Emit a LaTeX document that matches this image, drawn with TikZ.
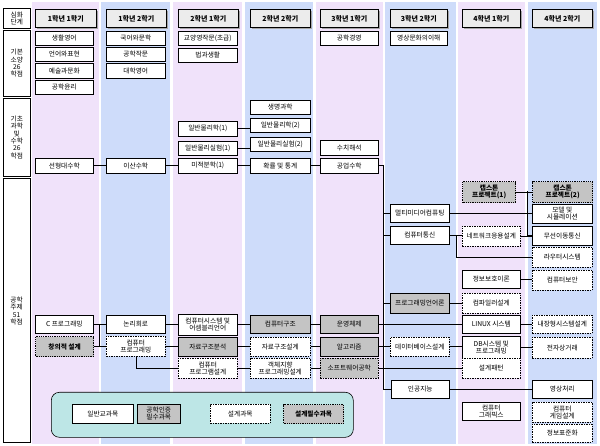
\documentclass[tikz,border=0pt]{standalone}
\usepackage{fontspec}
\setmainfont{Noto Sans CJK KR}
\usetikzlibrary{shadows}
\definecolor{pk}{HTML}{F0E2FA}
\definecolor{bl}{HTML}{CEDCFA}
\definecolor{gy}{HTML}{C4C4C4}
\definecolor{tl}{HTML}{BDE6E6}
\newcommand\B[7]{\node[#2,anchor=north west,minimum width={(#5-#3)*1pt},minimum height={(#6-#4)*1pt}] (#1) at (#3,#4) {#7};}
\begin{document}
\begin{tikzpicture}[x=1pt,y=-1pt,font=\fontsize{6.7}{7.3}\selectfont,
 base/.style={draw=black,inner sep=0pt,align=center,line width=0.6pt},
 bx/.style={base,fill=white},
 gb/.style={base,fill=gy},
 ds/.style={base,fill=white,dashed,dash pattern=on 1.5pt off 1pt},
 dg/.style={base,fill=gy,line width=1.3pt,dash pattern=on 1pt off 0.8pt,font=\fontsize{6.7}{7.3}\selectfont\bfseries},
 hd/.style={base,fill=gray!15,line width=0.8pt,font=\fontsize{7}{8}\selectfont\bfseries,drop shadow={shadow xshift=1.2pt,shadow yshift=-1.2pt,fill=gray!70,opacity=1}},
 lb/.style={base,fill=white},
 ln/.style={line width=0.6pt}]
\useasboundingbox (0,0) rectangle (600,446);
\fill[white] (0,0) rectangle (600,446);
\foreach \a/\b in {32/99,173/242,316/383,458/525} \fill[pk] (\a,2) rectangle (\b,444);
\foreach \a/\b in {101/170,245/313,385/456,528/597} \fill[bl] (\a,2) rectangle (\b,444);
% row labels
\B{r0}{lb}{3}{8}{30}{28}{심화\\단계}
\B{r1}{lb}{3}{30}{30}{96}{기본\\소양\\26\\학점}
\B{r2}{lb}{3}{98}{30}{176}{기초\\과학\\및\\수학\\26\\학점}
\node[lb,anchor=north west,minimum width=27pt,minimum height=264pt] (r3) at (3,178) {};
\node[align=center] (r3t) at (16.5,311) {공학\\주제\\51\\학점};
% headers
\B{h1}{hd}{35}{9}{96}{27}{1학년 1학기}
\B{h2}{hd}{106}{9}{166}{27}{1학년 2학기}
\B{h3}{hd}{178}{9}{238}{27}{2학년 1학기}
\B{h4}{hd}{250}{9}{310}{27}{2학년 2학기}
\B{h5}{hd}{320}{9}{378}{27}{3학년 1학기}
\B{h6}{hd}{390}{9}{447}{27}{3학년 2학기}
\B{h7}{hd}{462}{9}{520}{27}{4학년 1학기}
\B{h8}{hd}{532}{9}{592}{27}{4학년 2학기}
% basic
\B{a1}{bx}{35}{31}{93}{45}{생활영어}
\B{a2}{bx}{35}{47}{93}{61}{언어와표현}
\B{a3}{bx}{35}{63}{93}{78}{예술과문화}
\B{a4}{bx}{35}{80}{93}{94}{공학윤리}
\B{b1}{bx}{106}{31}{165}{45}{국어와문학}
\B{b2}{bx}{106}{47}{165}{61}{공학작문}
\B{b3}{bx}{106}{63}{165}{78}{대학영어}
\B{c1}{bx}{178}{31}{237}{45}{교양영작문(초급)}
\B{c2}{bx}{178}{48}{237}{62}{법과생활}
\B{e1}{bx}{320}{31}{378}{45}{공학경영}
\B{f1}{bx}{390}{31}{447}{45}{영상문화의이해}
% science
\B{lin}{bx}{35}{158}{93}{173}{선형대수학}
\B{ida}{bx}{106}{158}{165}{173}{이산수학}
\B{ph1}{bx}{178}{121}{237}{136}{일반물리학(1)}
\B{pl1}{bx}{178}{141}{237}{155}{일반물리실험(1)}
\B{mi}{bx}{178}{158}{237}{173}{미적분학(1)}
\B{bio}{bx}{250}{100}{310}{114}{생명과학}
\B{ph2}{bx}{250}{118}{310}{132}{일반물리학(2)}
\B{pl2}{bx}{250}{137}{310}{151}{일반물리실험(2)}
\B{hwak}{bx}{250}{158}{310}{173}{확률 및 통계}
\B{num}{bx}{320}{140}{378}{155}{수치해석}
\B{gong}{bx}{320}{158}{378}{173}{공업수학}
% engineering
\B{cpr}{bx}{35}{315}{93}{333}{C 프로그래밍}
\B{cre}{dg}{35}{336}{93}{356}{창의적 설계}
\B{non}{bx}{106}{315}{165}{333}{논리회로}
\B{cp}{ds}{106}{336}{165}{356}{컴퓨터\\프로그래밍}
\B{cs}{bx}{178}{314}{237}{335}{컴퓨터시스템 및\\어셈블리언어}
\B{dsa}{gb}{178}{337}{237}{356}{자료구조분석}
\B{cpd}{ds}{178}{358}{237}{378}{컴퓨터\\프로그램설계}
\B{arch}{gb}{250}{315}{310}{333}{컴퓨터구조}
\B{dsd}{ds}{250}{337}{310}{356}{자료구조설계}
\B{oop}{ds}{250}{358}{310}{378}{객체지향\\프로그래밍설계}
\B{os}{gb}{320}{315}{378}{333}{운영체제}
\B{alg}{gb}{320}{337}{378}{356}{알고리즘}
\B{sw}{ds,fill=gy}{320}{358}{378}{378}{소프트웨어공학}
\B{mm}{bx}{390}{204}{449}{222}{멀티미디어컴퓨팅}
\B{cn}{bx}{390}{226}{449}{244}{컴퓨터통신}
\B{pll}{gb}{390}{293}{449}{313}{프로그래밍언어론}
\B{dbd}{ds}{390}{337}{449}{356}{데이터베이스설계}
\B{ai}{bx}{391}{380}{449}{398}{인공지능}
\B{cap1}{dg}{462}{181}{515}{202}{캡스톤\\프로젝트(1)}
\B{net}{ds}{462}{226}{520}{246}{네트워크응용설계}
\B{info}{bx}{462}{270}{520}{288}{정보보호이론}
\B{comp}{ds}{462}{293}{520}{313}{컴파일러설계}
\B{linux}{bx}{462}{315}{520}{333}{LINUX 시스템}
\B{db}{bx}{462}{336}{520}{358}{DB시스템 및\\프로그래밍}
\B{dp}{ds}{462}{358}{520}{378}{설계패턴}
\B{cg}{bx}{462}{402}{520}{420}{컴퓨터\\그래픽스}
\B{cap2}{dg}{532}{181}{592}{202}{캡스톤\\프로젝트(2)}
\B{model}{bx}{532}{204}{592}{223}{모델 및\\시뮬레이션}
\B{wl}{bx}{532}{226}{592}{245}{무선이동통신}
\B{rt}{ds}{532}{247}{592}{267}{라우터시스템}
\B{sec}{ds}{532}{270}{592}{290}{컴퓨터보안}
\B{emb}{ds}{532}{315}{592}{333}{내장형시스템설계}
\B{ec}{ds}{532}{337}{592}{358}{전자상거래}
\B{img}{bx}{532}{380}{592}{398}{영상처리}
\B{game}{ds}{532}{402}{592}{422}{컴퓨터\\게임설계}
\B{std}{ds}{532}{424}{592}{442}{정보표준화}
% legend
\node[draw=black,fill=tl,rounded corners=8pt,line width=0.6pt,anchor=north west,minimum width=302pt,minimum height=45pt] (leg) at (51,392) {};
\B{l1}{bx}{72}{404}{133}{423}{일반교과목}
\B{l2}{gb}{137}{404}{180}{423}{공학인증\\필수과목}
\B{l3}{ds}{210}{404}{270}{423}{설계과목}
\B{l4}{dg}{283}{404}{343}{423}{설계필수과목}
% connectors
\coordinate (tb) at (383,389);
\coordinate (jv) at (99,0);
\coordinate (vt) at (527,191.5);
\coordinate (rv) at (456,236);
\draw[ln] (lin.east) -- (ida.west);
\draw[ln] (ida.east) -- (mi.west);
\draw[ln] (mi.east) -- (hwak.west);
\draw[ln] (hwak.east) -- (gong.west);
\draw[ln] (ph1.east) -- (ph1.east -| ph2.west);
\draw[ln] (pl1.east) -- (pl1.east -| pl2.west);
\draw[ln] (gong.east) -- (gong.east -| tb) -- (tb) -- (tb -| ai.west);
\draw[ln] (mm.west -| tb) -- (mm.west);
\draw[ln] (cn.west -| tb) -- (cn.west);
\draw[ln] (pll.west -| tb) -- (pll.west);
\draw[ln] (os.east) -- (os.east -| linux.west);
\draw[ln] (sw.east) -- (sw.east -| dp.west);
\draw[ln] (cap1.east) -- (cap1.east -| cap2.west);
\draw[ln] (vt) |- (wl.west);
\draw[ln] (net.east) -- (net.east -| wl.west);
\draw[ln] (mm.east) -- (mm.east -| model.west);
\draw[ln] (cn.east) -- (cn.east -| net.west);
\draw[ln] (rv) |- (rt.west);
\draw[ln] (info.east) -- (info.east -| sec.west);
\draw[ln] (pll.east) -- (pll.east -| comp.west);
\draw[ln] (linux.east) -- (linux.east -| emb.west);
\draw[ln] (db.east) -- (db.east -| ec.west);
\draw[ln] (dbd.east) -- (dbd.east -| db.west);
\draw[ln] (alg.east) -- (alg.east -| dbd.west);
\draw[ln] (ai.east) -- (ai.east -| img.west);
\draw[ln] (cpr.east) -- (cpr.east -| non.west);
\draw[ln] (cre.east) -- (cre.east -| cp.west);
\draw[ln] (cpr.east -| jv) -- (cre.east -| jv);
\draw[ln] (non.east) -- (non.east -| cs.west);
\draw[ln] (cp.east) -- (cp.east -| dsa.west);
\draw[ln] (cp.south) |- (cpd.west);
\draw[ln] (cs.east) -- (cs.east -| arch.west);
\draw[ln] (arch.east) -- (arch.east -| os.west);
\draw[ln] (dsa.east) -- (dsa.east -| dsd.west);
\draw[ln] (dsd.east) -- (dsd.east -| alg.west);
\draw[ln] (cpd.east) -- (cpd.east -| oop.west);
\draw[ln] (oop.east) -- (oop.east -| sw.west);
\end{tikzpicture}
\end{document}
